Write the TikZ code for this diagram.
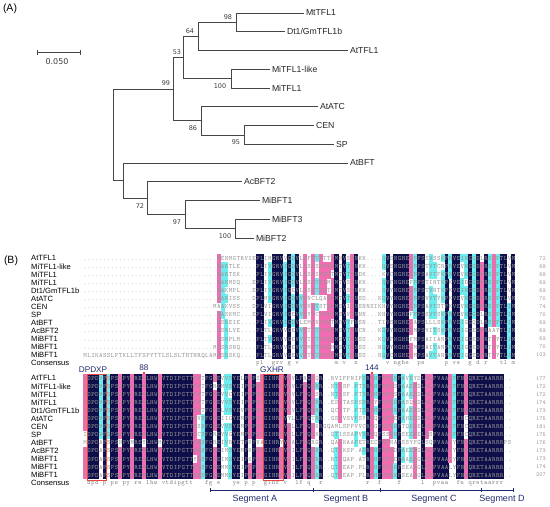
\documentclass[tikz,border=0pt]{standalone}
\usepackage{fontspec}
\setmainfont{Liberation Sans}
\newfontfamily\verd{DejaVu Sans}
\definecolor{anavy}{RGB}{14,14,74}
\definecolor{apink}{RGB}{242,108,178}
\definecolor{acyan}{RGB}{108,238,238}
\definecolor{seqgray}{RGB}{150,150,150}
\definecolor{motif}{RGB}{32,42,110}
\definecolor{treegray}{RGB}{70,70,70}
\definecolor{boxred}{RGB}{232,70,60}
\definecolor{bootgray}{RGB}{60,60,60}
\makeatletter
\newcount\sq@n \newcount\sq@col \newcount\sq@k
\protected\def\sqbox#1{\hbox to 3.93pt{\hss#1\hss}}
\def\sq@countit#1{\ifx#1\relax\else\advance\sq@n\@ne\expandafter\sq@countit\fi}
\def\sq@put#1{\expandafter\xdef\csname ch@\sq@blk @\sq@row @\the\sq@col\endcsname{#1}%
  \xdef\sq@str{\sq@str\sqbox{#1}}\global\advance\sq@col\@ne}
\def\sq@appendit#1{\ifx#1\relax\else\sq@put{#1}\expandafter\sq@appendit\fi}
\def\sq@dotsloop{\ifnum\sq@k>\z@\sq@put{.}\advance\sq@k\m@ne\expandafter\sq@dotsloop\fi}
\def\seg#1#2#3{\sq@n\z@\sq@countit#3\relax\sq@k#1\relax\advance\sq@k-\sq@n
  \if#2L\sq@dotsloop\sq@appendit#3\relax\else\sq@appendit#3\relax\sq@dotsloop\fi}
\def\seqrow#1#2#3{\xdef\sq@blk{#1}\xdef\sq@row{#2}\global\sq@col\z@\gdef\sq@str{}#3%
  \expandafter\global\expandafter\let\csname str@#1@#2\endcsname\sq@str}
\newcount\cc@m \newcount\cc@best
\def\dotch{.}
\def\computecons#1#2{%
 \foreach \qc in {0,...,#2}{%
  \global\cc@best\z@ \gdef\bch{.}%
  \foreach \qa in {0,...,12}{%
   \expandafter\let\expandafter\sqa\csname ch@#1@\qa @\qc\endcsname
   \ifx\sqa\dotch\else
    \global\cc@m\z@
    \foreach \qb in {0,...,12}{%
     \expandafter\let\expandafter\sqb\csname ch@#1@\qb @\qc\endcsname
     \ifx\sqa\sqb\global\advance\cc@m\@ne\fi}%
    \ifnum\cc@m>\cc@best\global\cc@best\cc@m\global\let\bch\sqa\fi
   \fi}%
  \expandafter\xdef\csname best@#1@\qc\endcsname{\the\cc@best}%
  \expandafter\global\expandafter\let\csname bch@#1@\qc\endcsname\bch}}
\def\drawblock#1#2#3{%
 \foreach \qc in {0,...,#2}{%
  \expandafter\let\expandafter\bch\csname bch@#1@\qc\endcsname
  \edef\bst{\csname best@#1@\qc\endcsname}%
  \ifnum\bst>6
   \ifnum\bst=13 \def\cellcol{anavy}\else\ifnum\bst>9 \def\cellcol{apink}\else\def\cellcol{acyan}\fi\fi
   \foreach \qa in {0,...,12}{%
    \expandafter\let\expandafter\sqa\csname ch@#1@\qa @\qc\endcsname
    \ifx\sqa\bch
     \fill[\cellcol] ({83+3.93*\qc-0.05},{#3+8.05*\qa-4.1}) rectangle ++(4.03,8.2);
    \fi}%
   \ifnum\bst=13
    \edef\tmp{\noexpand\def\noexpand\lc{\bch}}\lowercase\expandafter{\tmp}%
    \node[constxt] at ({83+3.93*\qc+1.965},{#3+8.05*13+1.4}) {\lc};
   \fi
  \fi}}
\makeatother
% ---------- block 1 ----------
\seqrow{1}{0}{\seg{44}{L}{MENMGTRVIE}\seg{31}{R}{PLIMGRVVGDVLDFFTPTTKMNVSYNKK}\seg{35}{L}{QVSNGHELFPSSVSSKPRVEIHGGDLRSFFTLVM}}
\seqrow{1}{1}{\seg{44}{L}{MARTLE....}\seg{31}{R}{PLIVGRVIGDVLDSFSPSVKMTVTYNKK}\seg{35}{L}{QVSNGHELFPSTVTCRPRVEVHGGDMRSFFTLVM}}
\seqrow{1}{2}{\seg{44}{L}{MARTSK....}\seg{31}{R}{PLIVGRVIGDVLDSFSPSVTMTVTYNDK}\seg{35}{L}{KVCNGHELFPSAVTFKPRVEVHGGDMRSFFTLVM}}
\seqrow{1}{3}{\seg{44}{L}{MARMSQ...E}\seg{31}{R}{PLIVGRVIGDVLDSFTPSMKMTVSYNKK}\seg{35}{L}{QVFNGHEFFPSTINTKPKVEIDGGDMRSFFTLVM}}
\seqrow{1}{4}{\seg{44}{L}{MAKMPL...E}\seg{31}{R}{PLIVGRVIGEVLDSFTPSTKMTVSYNKK}\seg{35}{L}{QVYNGHELFPSTVNTKPKVEIHGGDMRSFFTLVM}}
\seqrow{1}{5}{\seg{44}{L}{MARISS...D}\seg{31}{R}{PLMVGRVIGDVVDNCLQAVKMTVTYNSD}\seg{35}{L}{KQVYNGHELFPSVVTYKPKVEVHGGDMRSFFTLVM}}
\seqrow{1}{6}{\seg{44}{L}{MAAKVSS...D}\seg{31}{R}{PLVIGRVIGDVVDHFTSTVKMSVIYNSNNSI}\seg{35}{L}{KHVYNGHELFPSAVTSTPKVEVHGGDMRSFFTLIM}}
\seqrow{1}{7}{\seg{44}{L}{MASKMC...E}\seg{31}{R}{PLVIGRVIGEVVDYFCPSVKMSVVYNNN}\seg{35}{L}{KHVYNGHEFFPSSVTSKPRVEVHGGDLRSFFTLIM}}
\seqrow{1}{8}{\seg{44}{L}{MSREIE....}\seg{31}{R}{PLIVGRVIGDVLEMFNPSVTMRVTFNSN}\seg{35}{L}{TIVSNGHELAPSLLLSKPRVEIGGQDLRSFFTLIM}}
\seqrow{1}{9}{\seg{44}{L}{MSRLVE....}\seg{31}{R}{PLTLGRVVGEVVDTFTPSVKMSVTYNCN}\seg{35}{L}{KQVYNGHELMPSVITSKPRVEIGGEDMRAAYTLIM}}
\seqrow{1}{10}{\seg{44}{L}{MSRPLM....}\seg{31}{R}{PLTVGRVVGEVVDTFTPSVKMSVTYNSS}\seg{35}{L}{KQVFNGHEFMPSAIIANPRVEIGGEDMRTFYTLIM}}
\seqrow{1}{11}{\seg{44}{L}{MMSRSNQ....}\seg{31}{R}{PLTLGRVVGEVVDMFTPSVNMSVTYNSS}\seg{35}{L}{NQVYNGHELMPSAITANPRVEIGGEDMRTFYTLIM}}
\seqrow{1}{12}{\seg{44}{L}{MLIKASSLPTKLLTFSPYTTLSLSLTHTHRQLAMMSRSKQ....}\seg{31}{R}{PLTLGRVVGEVVDTFTPSVKMSVTYNSS}\seg{35}{L}{NQVCNGHELMPSAVTANPRVEIGGEDMRTFYTLIM}}
% ---------- block 2 ----------
\seqrow{2}{0}{\seg{61}{L}{TDPDVPGPSDPYLREHLHWIVTDIPGTTDATFGKEVVSYELPRPSIGIHRFVFVLFRQKQR}\seg{11}{L}{RVIFPNIPS}\seg{37}{R}{RDHFNTRKFAVEYDLGLPVAAVFFNAQRETAARRR}}
\seqrow{2}{1}{\seg{61}{L}{TDPDVPGPSDPYLREHLHWIVTDIPGTTDATFGREMVSYEIPRPNIGIHRFVFVLFKQKRR}\seg{11}{L}{NTVSP.PTS}\seg{37}{R}{RDHFNTRSFAAENDLGLPVAAVFFNAQRETAARRR}}
\seqrow{2}{2}{\seg{61}{L}{TDPDVPGPSDPYLREHLHWIVTDIPGTTDATFGKEVVCYEIPRPNIGIHRFVFVLFKQKSR}\seg{11}{L}{NTVSF.PTS}\seg{37}{R}{RDHFNTRSFAAENDLGLPVAAVFFNAQRETAARRR}}
\seqrow{2}{3}{\seg{61}{L}{TDPDVPGPSDPYLREHLHWIVTDIPGTTDATFGKEVVSYEIPRPNIGIHRFVFVLFKQKRR}\seg{11}{L}{ESVTASPSS}\seg{37}{R}{RDYFNTRKFASQNDLGLPVAAVFFNAQRETAARRR}}
\seqrow{2}{4}{\seg{61}{L}{TDPDVPGPSDPYLREHLHWIVTDIPGTTDATFGKELVSYEVPRPNIGIHRFVFVLFKQKRR}\seg{11}{L}{QCVTP.PTS}\seg{37}{R}{RDHFNTRKFAAENDLGLPVAAVFFNAQRETAARRR}}
\seqrow{2}{5}{\seg{61}{L}{TDPDVPGPSDPYLREHLHWIVTDIPGTTDVSFGKEIIGYEMPRPNIGIHRFVYLLFKQTRR}\seg{11}{L}{GSVVSVPSY}\seg{37}{R}{RDQFNTREFAHENDLGLPVAAVFFNCQRETAARRR}}
\seqrow{2}{6}{\seg{61}{L}{TDPDVPGPSDPYLREHLHWIVTDIPGTTDSSFGKEVVSYEMPRPNIGIHRFVFLLFKQKKR}\seg{11}{L}{GQAMLSPPVVC}\seg{37}{R}{RDGFNTRKFTQENELGLPVAAVFFNCQRETAARRR}}
\seqrow{2}{7}{\seg{61}{L}{IDPDVPGPSDPYLREHLHWIVTDIPGTTDCSFGREVVGYEMPRPNIGIHRFVFLLFKQKKR}\seg{11}{L}{QTISSAPVS}\seg{37}{R}{RDQFSSRKFSEENELGSPVAAVFFNCQRETAARRR}}
\seqrow{2}{8}{\seg{61}{L}{MDPDAPSPSNPYMREYLHWMVTDIPGTTDASFGREIVRYETPKPVAGIHRYVFALFKQRGR}\seg{11}{L}{QAVKAAPET}\seg{37}{R}{RECFNTNAFSSYFGLSQPVAAVYFNAQRETAARRRPS}}
\seqrow{2}{9}{\seg{61}{L}{TDPDAPSPSDPYLREHLHWIVTDIPGTTDASFGKEIMSYEMPKPNIGIHRFVFILFKQKRR}\seg{11}{L}{QTVKSP.AS}\seg{37}{R}{RDHFNTRDFAEENGLGLPVAAVYFNAQRETAARRR}}
\seqrow{2}{10}{\seg{61}{L}{TDPDAPSPSDPYLREHLHWIVTDIPGTTYASFGKEIMSYEIPKPNIGIHRFVFILFKQKRR}\seg{11}{L}{RTVQAP.AT}\seg{37}{R}{RDHFNTREFAAENGLGLPVAAVYFNAQRETAARRR}}
\seqrow{2}{11}{\seg{61}{L}{TDPDAPSPSDPYLREHLHWIVTDIPGTTDASFGKEMMSYEIPRPNIGIHRFVFILFKQKRR}\seg{11}{L}{QTVEAP.PL}\seg{37}{R}{RDHFNTRKFSEANGLGLPVAALYFNAQRETAARRR}}
\seqrow{2}{12}{\seg{61}{L}{TDPDAPSPSDPYLREHLHWIVTDIPGTTDASFGKEMMSYEIPRPNIGIHRFVFILFKQKRR}\seg{11}{L}{QTVEAP.PL}\seg{37}{R}{RDHFNTRKFSEANGLGLPVAALYFNAQRETAARRR}}
\computecons{1}{109}
\computecons{2}{108}
\newcommand\seqfont{\ttfamily\fontsize{6.6}{7}\selectfont}
\tikzset{
  br/.style={draw=treegray, line width=0.75pt},
  leaf/.style={anchor=west, inner sep=1.8pt, text=black!85, font=\fontsize{8.7}{10}\selectfont},
  boot/.style={inner sep=0, text=bootgray, font=\verd\fontsize{6.5}{8}\selectfont},
  panel/.style={inner sep=0, font=\fontsize{10.5}{12}\selectfont},
  seqname/.style={anchor=west, inner sep=0, font=\fontsize{7.6}{9}\selectfont},
  seqtxt/.style={anchor=base west, inner sep=0, text=seqgray, font=\seqfont},
  constxt/.style={anchor=base, inner sep=0, text=seqgray!90!black, font=\seqfont},
  numtxt/.style={anchor=base east, inner sep=0, text=seqgray, font=\ttfamily\fontsize{6}{7}\selectfont},
  motiflbl/.style={inner sep=0, text=motif, font=\fontsize{8.2}{10}\selectfont},
  reddot/.style={fill=boxred, draw=none, minimum size=1.8pt, inner sep=0},
  redbox/.style={draw=boxred, line width=0.8pt},
  segline/.style={draw=motif, line width=0.9pt},
  seglbl/.style={inner sep=0, text=motif, font=\fontsize{9}{10}\selectfont}
}
\begin{document}
\begin{tikzpicture}[x=1pt,y=-1pt]
\useasboundingbox (0,0) rectangle (550,507);
% ================= (A) tree =================
\node[panel] (pA) at (10,9) {(A)};
\coordinate (sb1) at (37,52);
\coordinate (sb2) at (80,52);
\draw[br] (sb1) -- (sb2);
\draw[br] ([yshift=-2.5pt]sb1) -- ([yshift=2.5pt]sb1);
\draw[br] ([yshift=-2.5pt]sb2) -- ([yshift=2.5pt]sb2);
\node[inner sep=0, text=bootgray, font=\verd\fontsize{8}{9}\selectfont] (sbl) at (57,62) {0.050};
\coordinate (root) at (113,134.9);
\coordinate (n99) at (173,89.2);
\coordinate (n53) at (183,57.5);
\coordinate (n64) at (198,36.4);
\coordinate (n98) at (236,22.4);
\coordinate (n100a) at (231,78.6);
\coordinate (n86) at (201,120.8);
\coordinate (n95) at (244,134.9);
\coordinate (nB) at (123,180.6);
\coordinate (n72) at (147,198.2);
\coordinate (n97) at (185,214.6);
\coordinate (n100b) at (235,228.6);
\node[leaf] (lMt) at (304,13) {MtTFL1};
\node[leaf] (lDt) at (285,31.75) {Dt1/GmTFL1b};
\node[leaf] (lAtT) at (348,50.5) {AtTFL1};
\node[leaf] (lMiL) at (270,69.25) {MiTFL1-like};
\node[leaf] (lMi) at (270,88) {MiTFL1};
\node[leaf] (lATC) at (318,106.75) {AtATC};
\node[leaf] (lCEN) at (314,125.5) {CEN};
\node[leaf] (lSP) at (334,144.25) {SP};
\node[leaf] (lBFT) at (348,163) {AtBFT};
\node[leaf] (lAc) at (242,181.75) {AcBFT2};
\node[leaf] (lMB1) at (260,200.5) {MiBFT1};
\node[leaf] (lMB3) at (270,219.25) {MiBFT3};
\node[leaf] (lMB2) at (254,238) {MiBFT2};
\draw[br] (root) |- (n99);  \draw[br] (root) |- (nB);
\draw[br] (n99) |- (n53);   \draw[br] (n99) |- (n86);
\draw[br] (n53) |- (n64);   \draw[br] (n53) |- (n100a);
\draw[br] (n64) |- (n98);   \draw[br] (n64) |- (lAtT.west);
\draw[br] (n98) |- (lMt.west); \draw[br] (n98) |- (lDt.west);
\draw[br] (n100a) |- (lMiL.west); \draw[br] (n100a) |- (lMi.west);
\draw[br] (n86) |- (lATC.west); \draw[br] (n86) |- (n95);
\draw[br] (n95) |- (lCEN.west); \draw[br] (n95) |- (lSP.west);
\draw[br] (nB) |- (lBFT.west); \draw[br] (nB) |- (n72);
\draw[br] (n72) |- (lAc.west); \draw[br] (n72) |- (n97);
\draw[br] (n97) |- (lMB1.west); \draw[br] (n97) |- (n100b);
\draw[br] (n100b) |- (lMB3.west); \draw[br] (n100b) |- (lMB2.west);
\node[boot] (b98) at (228,17) {98};
\node[boot] (b64) at (190,31) {64};
\node[boot] (b53) at (177,52) {53};
\node[boot] (b99) at (166,83) {99};
\node[boot] (b100a) at (220,86) {100};
\node[boot] (b86) at (193,128) {86};
\node[boot] (b95) at (236,142) {95};
\node[boot] (b72) at (140,206) {72};
\node[boot] (b97) at (177,222) {97};
\node[boot] (b100b) at (225,236) {100};
% ================= (B) alignment =================
\node[panel] (pB) at (11,261) {(B)};
\drawblock{1}{109}{258.3}
\drawblock{2}{108}{378.3}
\foreach \i in {0,...,12}{
  \node[seqtxt] (sA\i) at (83,{258.3+8.05*\i+2.2}) {\csname str@1@\i\endcsname};
  \node[seqtxt] (sB\i) at (83,{378.3+8.05*\i+2.2}) {\csname str@2@\i\endcsname};
}
\foreach \nm [count=\i from 0] in {AtTFL1,MiTFL1-like,MiTFL1,MiTFL1,Dt1/GmTFL1b,AtATC,CEN,SP,AtBFT,AcBFT2,MiBFT1,MiBFT1,MiBFT1,Consensus}{
  \node[seqname] (nA\i) at (31,{258.3+8.05*\i}) {\nm};
  \node[seqname] (nB\i) at (31,{378.3+8.05*\i}) {\nm};
}
\foreach \v [count=\i from 0] in {72,68,68,69,69,70,74,70,69,69,69,70,103}{
  \node[numtxt] (rA\i) at (546,{258.3+8.05*\i+2}) {\v};
}
\foreach \v [count=\i from 0] in {177,172,172,174,173,175,181,175,176,173,173,174,207}{
  \node[numtxt] (rB\i) at (546,{378.3+8.05*\i+2}) {\v};
}
% motifs
\node[motiflbl] (mDP) at (93,369.3) {DPDXP};
\node[motiflbl] (m88) at (143.9,368) {88};
\node[motiflbl] (mGX) at (272,369.3) {GXHR};
\node[motiflbl] (m144) at (371.9,368) {144};
\node[reddot] (d88) at (143.9,372.8) {};
\node[reddot] (d144) at (371.9,372.8) {};
\draw[redbox] (86.9,374.2) rectangle (106.6,480);
\draw[redbox] (263.8,374.2) rectangle (283.5,480);
% segments
\coordinate (sgA) at (210,490);
\coordinate (sgB) at (313,490);
\coordinate (sgC) at (380,490);
\coordinate (sgD) at (481,490);
\coordinate (sgE) at (513,490);
\draw[segline] (sgA) -- (sgE);
\foreach \p in {sgA,sgB,sgC,sgD,sgE}{
  \draw[segline] ([yshift=-2.2pt]\p) -- ([yshift=2.2pt]\p);
}
\node[seglbl] (lsA) at (255,499.5) {Segment A};
\node[seglbl] (lsB) at (346,499.5) {Segment B};
\node[seglbl] (lsC) at (434,499.5) {Segment C};
\node[seglbl] (lsD) at (502,499.5) {Segment D};
\end{tikzpicture}
\end{document}
